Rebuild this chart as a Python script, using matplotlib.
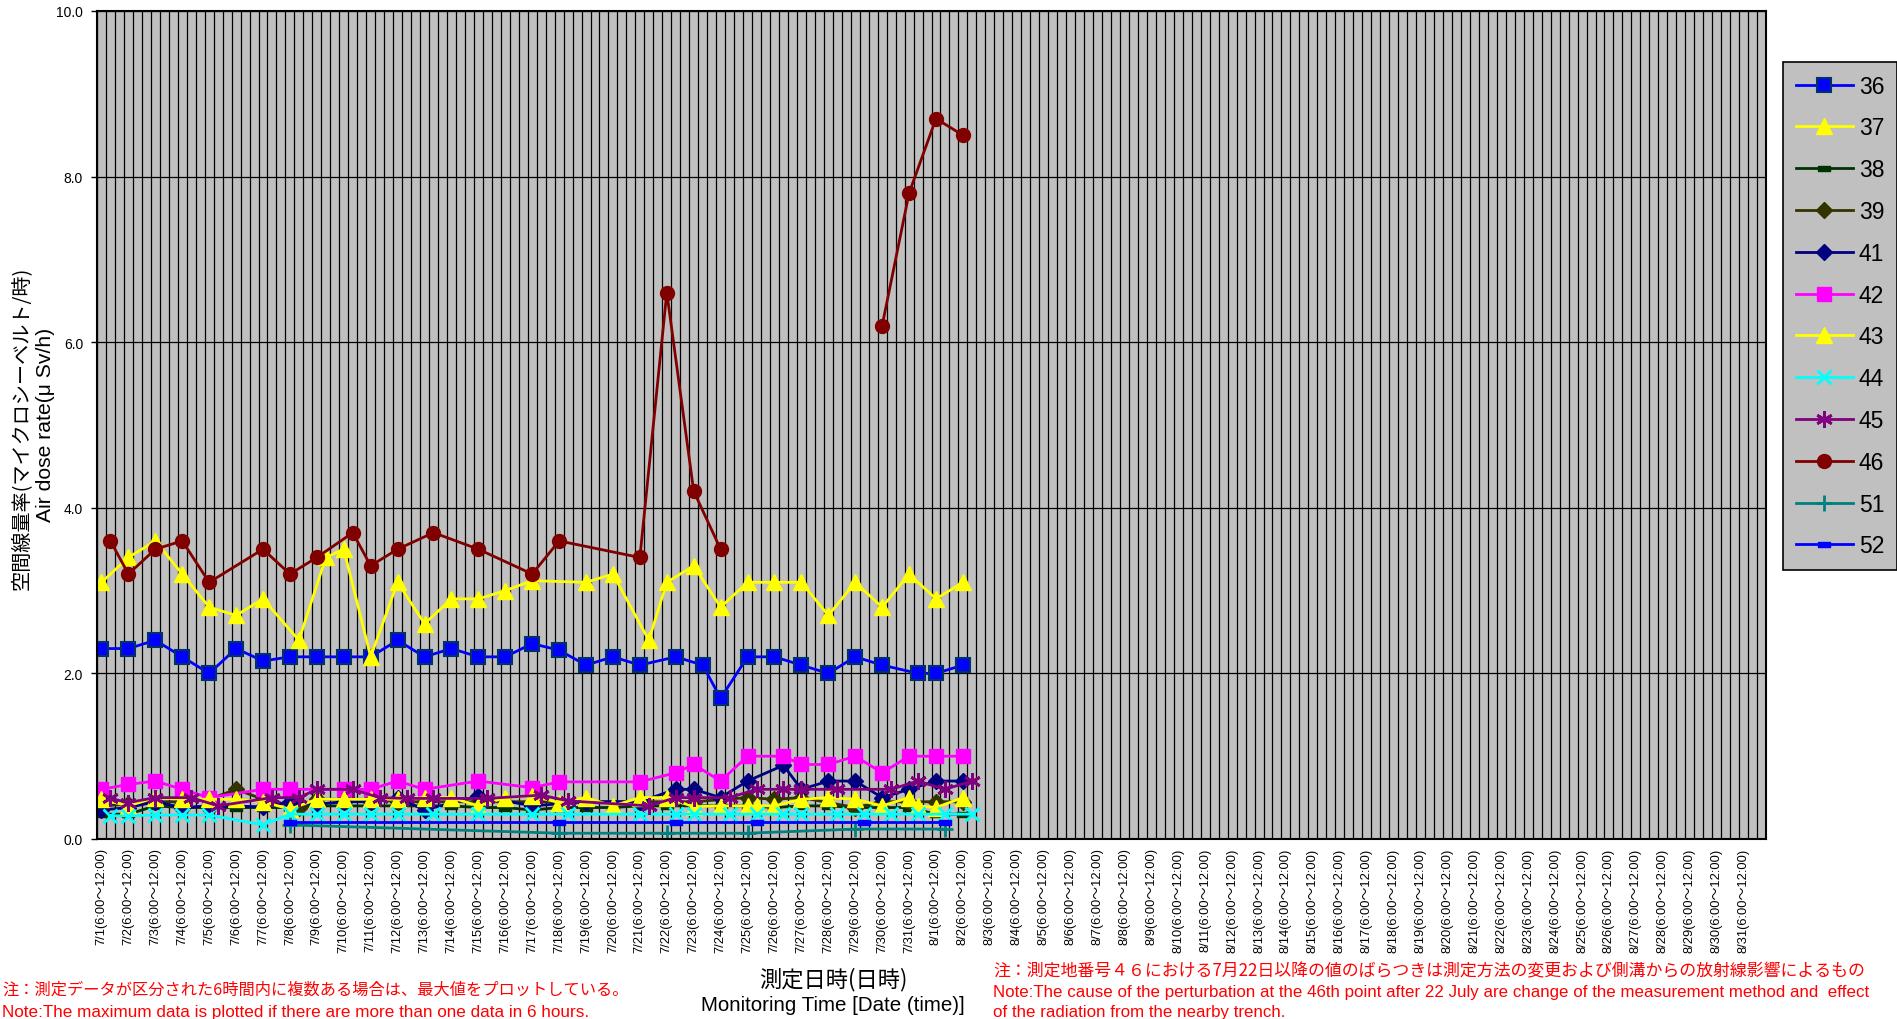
import numpy as np
import matplotlib
matplotlib.use("Agg")
import matplotlib.pyplot as plt
from matplotlib.path import Path

# ---------------- data ----------------
days = [f"7/{d}" for d in range(1, 32)] + [f"8/{d}" for d in range(1, 32)]
slots = ["6:00～12:00", "12:00～18:00", "18:00～24:00"]
slot_of = {"06": 0, "12": 1, "18": 2}
categories = [f"{d}({s})" for d in days for s in slots]

series_names = ["36", "37", "38", "39", "41", "42", "43", "44", "45", "46", "51", "52"]

s36_t = ["7/1 06", "7/2 06", "7/3 06", "7/4 06", "7/5 06", "7/6 06", "7/7 06", "7/8 06", "7/9 06",
         "7/10 06", "7/11 06", "7/12 06", "7/13 06", "7/14 06", "7/15 06", "7/16 06", "7/17 06",
         "7/18 06", "7/19 06", "7/20 06", "7/21 06", "7/22 12", "7/23 12", "7/24 06", "7/25 06",
         "7/26 06", "7/27 06", "7/28 06", "7/29 06", "7/30 06", "7/31 12", "8/1 06", "8/2 06"]
s36_v = [2.3, 2.3, 2.4, 2.2, 2.0, 2.3, 2.15, 2.2, 2.2, 2.2, 2.2, 2.4, 2.2, 2.3, 2.2, 2.2, 2.36,
         2.28, 2.1, 2.2, 2.1, 2.2, 2.1, 1.7, 2.2, 2.2, 2.1, 2.0, 2.2, 2.1, 2.0, 2.0, 2.1]

s37_t = ["7/1 06", "7/2 06", "7/3 06", "7/4 06", "7/5 06", "7/6 06", "7/7 06", "7/8 12", "7/9 12",
         "7/10 06", "7/11 06", "7/12 06", "7/13 06", "7/14 06", "7/15 06", "7/16 06", "7/17 06",
         "7/19 06", "7/20 06", "7/21 12", "7/22 06", "7/23 06", "7/24 06", "7/25 06", "7/26 06",
         "7/27 06", "7/28 06", "7/29 06", "7/30 06", "7/31 06", "8/1 06", "8/2 06"]
s37_v = [3.1, 3.4, 3.6, 3.2, 2.8, 2.7, 2.9, 2.4, 3.4, 3.5, 2.2, 3.1, 2.6, 2.9, 2.9, 3.0, 3.12,
         3.1, 3.2, 2.4, 3.1, 3.3, 2.8, 3.1, 3.1, 3.1, 2.7, 3.1, 2.8, 3.2, 2.9, 3.1]

s38_t = ["7/1 06", "7/2 06", "7/3 06", "7/4 06", "7/5 06", "7/6 06", "7/7 06", "7/8 06", "7/9 06",
         "7/10 06", "7/11 06", "7/12 06", "7/13 06", "7/14 06", "7/15 06", "7/16 06", "7/17 06",
         "7/18 06", "7/19 06", "7/20 06", "7/21 06", "7/22 06", "7/23 06", "7/24 06", "7/25 06",
         "7/26 06", "7/27 06", "7/28 06", "7/29 06", "7/30 06", "7/31 06", "8/1 06", "8/2 06"]
s38_v = [0.3, 0.3, 0.4, 0.38, 0.38, 0.38, 0.38, 0.38, 0.4, 0.4, 0.4, 0.4, 0.4, 0.4, 0.38, 0.38,
         0.35, 0.38, 0.38, 0.38, 0.4, 0.4, 0.4, 0.4, 0.4, 0.38, 0.4, 0.4, 0.38, 0.38, 0.38, 0.3, 0.3]

s39_t = ["7/1 06", "7/2 06", "7/3 06", "7/4 06", "7/5 06", "7/6 06", "7/7 06", "7/8 12", "7/9 06",
         "7/10 06", "7/11 06", "7/12 06", "7/13 06", "7/15 06", "7/17 06", "7/19 06", "7/21 06",
         "7/23 06", "7/25 06", "7/26 06", "7/27 06", "7/29 06", "7/30 06", "7/31 06", "8/1 06",
         "8/2 06"]
s39_v = [0.4, 0.42, 0.45, 0.45, 0.48, 0.6, 0.48, 0.38, 0.48, 0.48, 0.48, 0.45, 0.45, 0.45, 0.45,
         0.45, 0.45, 0.45, 0.5, 0.48, 0.5, 0.38, 0.45, 0.45, 0.45, 0.45]

s41_t = ["7/1 06", "7/2 06", "7/3 06", "7/4 06", "7/5 06", "7/7 06", "7/8 06", "7/9 06", "7/10 06",
         "7/11 06", "7/12 06", "7/13 06", "7/15 06", "7/17 06", "7/19 06", "7/21 06", "7/22 12",
         "7/23 06", "7/24 06", "7/25 06", "7/26 12", "7/27 06", "7/28 06", "7/29 06", "7/30 06",
         "7/31 06", "8/1 06", "8/2 06"]
s41_v = [0.35, 0.38, 0.45, 0.38, 0.4, 0.39, 0.45, 0.42, 0.45, 0.45, 0.5, 0.35, 0.52, 0.4, 0.45,
         0.45, 0.6, 0.6, 0.5, 0.7, 0.89, 0.6, 0.7, 0.7, 0.5, 0.6, 0.7, 0.7]

s42_t = ["7/1 06", "7/2 06", "7/3 06", "7/4 06", "7/5 06", "7/7 06", "7/8 06", "7/10 06", "7/11 06",
         "7/12 06", "7/13 06", "7/15 06", "7/17 06", "7/18 06", "7/21 06", "7/22 12", "7/23 06",
         "7/24 06", "7/25 06", "7/26 12", "7/27 06", "7/28 06", "7/29 06", "7/30 06", "7/31 06",
         "8/1 06", "8/2 06"]
s42_v = [0.6, 0.66, 0.7, 0.6, 0.5, 0.6, 0.6, 0.6, 0.6, 0.7, 0.6, 0.7, 0.62, 0.69, 0.69, 0.8, 0.9,
         0.7, 1.0, 1.0, 0.9, 0.9, 1.0, 0.8, 1.0, 1.0, 1.0]

s43_t = ["7/1 06", "7/2 06", "7/3 06", "7/4 06", "7/5 06", "7/6 06", "7/7 06", "7/8 06", "7/9 06",
         "7/10 06", "7/11 06", "7/12 06", "7/13 06", "7/14 06", "7/15 06", "7/16 06", "7/17 06",
         "7/18 06", "7/19 06", "7/20 06", "7/21 06", "7/22 06", "7/23 06", "7/24 06", "7/25 06",
         "7/25 12", "7/26 06", "7/27 06", "7/28 06", "7/29 06", "7/30 06", "7/31 06", "7/31 12",
         "8/1 06", "8/2 06"]
s43_v = [0.48, 0.4, 0.5, 0.48, 0.48, 0.48, 0.45, 0.36, 0.48, 0.48, 0.48, 0.48, 0.5, 0.5, 0.4,
         0.5, 0.52, 0.44, 0.5, 0.4, 0.5, 0.5, 0.39, 0.4, 0.4, 0.4, 0.4, 0.48, 0.5, 0.48, 0.4, 0.5,
         0.4, 0.38, 0.5]

s44_t = ["7/1 12", "7/2 06", "7/3 06", "7/4 06", "7/5 06", "7/7 06", "7/8 06", "7/9 06", "7/10 06",
         "7/11 06", "7/12 06", "7/13 12", "7/15 06", "7/17 06", "7/18 12", "7/21 06", "7/22 12",
         "7/23 06", "7/24 12", "7/25 12", "7/26 12", "7/27 06", "7/28 12", "7/29 12", "7/30 12",
         "7/31 12", "8/1 12", "8/2 12"]
s44_v = [0.28, 0.28, 0.29, 0.29, 0.29, 0.17, 0.3, 0.3, 0.3, 0.3, 0.3, 0.3, 0.3, 0.3, 0.3, 0.3,
         0.3, 0.3, 0.3, 0.3, 0.3, 0.3, 0.3, 0.3, 0.3, 0.3, 0.3, 0.3]

s45_t = ["7/1 12", "7/2 06", "7/3 06", "7/4 12", "7/5 12", "7/7 12", "7/8 12", "7/9 06", "7/10 12",
         "7/11 12", "7/12 12", "7/13 12", "7/15 12", "7/17 12", "7/18 12", "7/21 12", "7/22 12",
         "7/23 06", "7/24 12", "7/25 12", "7/26 12", "7/27 06", "7/28 12", "7/30 12", "7/31 12",
         "8/1 12", "8/2 12"]
s45_v = [0.49, 0.44, 0.5, 0.5, 0.4, 0.5, 0.5, 0.6, 0.6, 0.5, 0.49, 0.49, 0.49, 0.53, 0.46, 0.4,
         0.5, 0.5, 0.5, 0.6, 0.6, 0.6, 0.6, 0.6, 0.7, 0.6, 0.7]

s46_t = ["7/1 12", "7/2 06", "7/3 06", "7/4 06", "7/5 06", "7/7 06", "7/8 06", "7/9 06", "7/10 12",
         "7/11 06", "7/12 06", "7/13 12", "7/15 06", "7/17 06", "7/18 06", "7/21 06", "7/22 06",
         "7/23 06", "7/24 06", "7/27 06", "7/30 06", "7/31 06", "8/1 06", "8/2 06"]
s46_v = [3.6, 3.2, 3.5, 3.6, 3.1, 3.5, 3.2, 3.4, 3.7, 3.3, 3.5, 3.7, 3.5, 3.2, 3.6, 3.4, 6.6,
         4.2, 3.5, None, 6.2, 7.8, 8.7, 8.5]

s51_t = ["7/8 06", "7/18 06", "7/22 06", "7/25 06", "7/29 06", "8/1 12"]
s51_v = [0.17, 0.07, 0.07, 0.07, 0.12, 0.12]

s52_t = ["7/8 06", "7/18 06", "7/22 12", "7/25 12", "7/29 12", "8/1 12"]
s52_v = [0.2, 0.2, 0.2, 0.2, 0.2, 0.2]

y_ticks = [0.0, 2.0, 4.0, 6.0, 8.0, 10.0]

# ---------------- helpers ----------------
def cat_index(key):
    day, hh = key.split()
    return categories.index(f"{day}({slots[slot_of[hh]]})")

rect_marker = Path([(-1, -0.45), (1, -0.45), (1, 0.45), (-1, 0.45), (-1, -0.45)],
                   [Path.MOVETO, Path.LINETO, Path.LINETO, Path.LINETO, Path.CLOSEPOLY])

styles = {
    "36": dict(color="#0000FF", marker="s", mfc="#0000FF", mec="#003366", ms=10, mew=1.5),
    "37": dict(color="#FFFF00", marker="^", mfc="#FFFF00", mec="#FFFF00", ms=11),
    "38": dict(color="#003300", marker=rect_marker, mfc="#003300", mec="#003300", ms=8),
    "39": dict(color="#333300", marker="D", mfc="#333300", mec="#333300", ms=8),
    "41": dict(color="#000080", marker="D", mfc="#000080", mec="#000080", ms=8),
    "42": dict(color="#FF00FF", marker="s", mfc="#FF00FF", mec="#FF00FF", ms=10),
    "43": dict(color="#FFFF00", marker="^", mfc="#FFFF00", mec="#FFFF00", ms=11),
    "44": dict(color="#00FFFF", marker="x", mfc="#00FFFF", mec="#00FFFF", ms=10, mew=2),
    "45": dict(color="#800080", marker=(6, 2, 0), mfc="#800080", mec="#800080", ms=12, mew=2),
    "46": dict(color="#800000", marker="o", mfc="#800000", mec="#800000", ms=10),
    "51": dict(color="#008080", marker="+", mfc="#008080", mec="#008080", ms=12, mew=2),
    "52": dict(color="#0000FF", marker=rect_marker, mfc="#0000FF", mec="#0000FF", ms=8),
}
data = {
    "36": (s36_t, s36_v), "37": (s37_t, s37_v), "38": (s38_t, s38_v), "39": (s39_t, s39_v),
    "41": (s41_t, s41_v), "42": (s42_t, s42_v), "43": (s43_t, s43_v), "44": (s44_t, s44_v),
    "45": (s45_t, s45_v), "46": (s46_t, s46_v), "51": (s51_t, s51_v), "52": (s52_t, s52_v),
}

W, H = 1897, 1020
fig = plt.figure(figsize=(W / 100, H / 100), dpi=100)
fig.patch.set_facecolor("white")
ax = fig.add_axes([97 / W, 180 / H, 1669 / W, 828 / H])
ax.set_facecolor("#C0C0C0")

handles = []
for name in series_names:
    t, v = data[name]
    x = [cat_index(k) for k in t]
    y = [np.nan if val is None else val for val in v]
    (ln,) = ax.plot(x, y, lw=2.0, label=name, **styles[name])
    handles.append(ln)

n = len(categories)
ax.set_xlim(-0.5, n - 0.5)
ax.set_ylim(0, 10)
ax.set_xticks(np.arange(-0.5, n, 1), minor=True)
ax.set_xticks(np.arange(0, n, 3))
ax.set_xticklabels([categories[i] for i in range(0, n, 3)], rotation=90,
                   fontsize=9.3, family=["Liberation Sans", "Noto Sans CJK JP"])
ax.tick_params(axis="x", which="both", length=0, pad=6)
ax.set_yticks(y_ticks)
ax.set_yticklabels([f"{v:.1f}" for v in y_ticks], fontsize=10, family="Liberation Sans")
ax.tick_params(axis="y", length=4, width=1, pad=6)
ax.grid(which="minor", axis="x", color="black", lw=0.9)
ax.grid(which="major", axis="y", color="black", lw=0.9)
ax.set_axisbelow(True)
for sp in ax.spines.values():
    sp.set_color("black")
    sp.set_linewidth(1.5)

leg = fig.legend(handles=handles, loc="upper left",
                 bbox_to_anchor=(1783 / W, 1 - 63 / H), borderaxespad=0, frameon=True,
                 handlelength=2.5, handletextpad=0.25,
                 labelspacing=0.82, borderpad=0.55, fancybox=False,
                 prop={"family": "Liberation Sans", "size": 16.5})
leg.get_frame().set_facecolor("#C0C0C0")
leg.get_frame().set_edgecolor("black")
leg.get_frame().set_linewidth(1.2)
leg.get_frame().set_alpha(1)

jp = ["Noto Sans CJK JP", "DejaVu Sans"]
# y label
fig.text(21 / W, 1 - 428 / H, "空間線量率(マイクロシーベルト/時)", rotation=90,
         ha="center", va="center", fontsize=14.5, family=jp)
fig.text(46 / W, 1 - 425 / H, "Air dose rate(μ Sv/h)", rotation=90,
         ha="center", va="center", fontsize=15.2, family="Liberation Sans")
# x label
fig.text(833 / W, 1 - 980 / H, "測定日時(日時)", ha="center", va="center",
         fontsize=16, family=jp)
fig.text(833 / W, 1 - 1006 / H, "Monitoring Time [Date (time)]", ha="center", va="center",
         fontsize=14.8, family="Liberation Sans")
# notes
red = "#FF0000"
fig.text(2 / W, 1 - 990 / H, "注：測定データが区分された6時間内に複数ある場合は、最大値をプロットしている。",
         ha="left", va="center", fontsize=11.7, color=red, family=jp)
fig.text(2 / W, 1 - 1013 / H, "Note:The maximum data is plotted if there are more than one data in 6 hours.",
         ha="left", va="center", fontsize=12.3, color=red, family="Liberation Sans")
fig.text(993 / W, 1 - 971 / H,
         "注：測定地番号４６における7月22日以降の値のばらつきは測定方法の変更および側溝からの放射線影響によるもの",
         ha="left", va="center", fontsize=12.2, color=red, family=jp)
fig.text(993 / W, 1 - 993 / H,
         "Note:The cause of the perturbation at the 46th point after 22 July are change of the measurement method and  effect",
         ha="left", va="center", fontsize=12.15, color=red, family="Liberation Sans")
fig.text(993 / W, 1 - 1013 / H, "of the radiation from the nearby trench.",
         ha="left", va="center", fontsize=12.15, color=red, family="Liberation Sans")

fig.savefig("out.png", dpi=100)
